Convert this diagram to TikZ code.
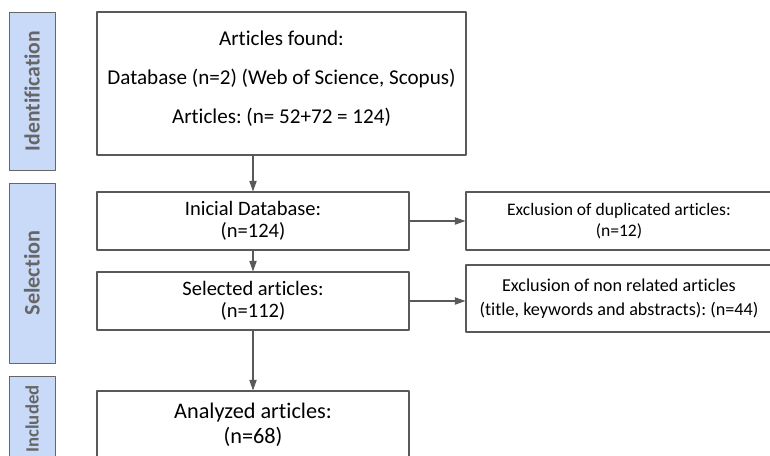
\documentclass[tikz,border=0pt]{standalone}
\usepackage{fontspec}
\setmainfont{Carlito}[Ligatures=NoCommon]
\usetikzlibrary{arrows.meta}
\frenchspacing

\definecolor{linegray}{HTML}{595959}
\definecolor{stagefill}{HTML}{C9DAF8}
\definecolor{stagetext}{HTML}{666666}

\tikzset{
  stepbox/.style={draw=linegray, fill=white, align=center, inner sep=0pt, line width=0.9pt},
  stagebox/.style={draw=stagetext, fill=stagefill, text=stagetext, rotate=90, inner sep=0pt,
    line width=0.8pt, minimum height=1.38cm},
  flow/.style={->, draw=linegray, fill=linegray, line width=1pt}
}

\begin{document}
\begin{tikzpicture}[x=0.03cm, y=-0.03cm, line cap=round, line join=round, >={Triangle[length=3.2mm,width=2.2mm]}]

% Khung hinh (pixel)
\useasboundingbox (0,0) rectangle (770,456);
\clip (0,0) rectangle (770,456);

% Cac giai doan ben trai
\node[stagebox, minimum width=4.74cm, font=\fontsize{18.5}{20}\selectfont\bfseries] (ident) at (32,91) {Identification};
\node[stagebox, minimum width=5.4cm, font=\fontsize{19}{20}\selectfont\bfseries] (selec) at (32,273) {Selection};
\node[stagebox, minimum width=2.58cm, font=\fontsize{16}{17}\selectfont\bfseries] (inclu) at (32,419) {Included};

% Hop tim kiem ban dau
\node[stepbox, minimum width=11.07cm, minimum height=4.29cm, font=\fontsize{18}{33}\selectfont] (found) at (281.5,83.5)
  {Articles found:\\Database (n=2) (Web of Science, Scopus)\\Articles: (n= 52+72 = 124)\\[-22pt]\mbox{}};

% Cac buoc chon loc
\node[stepbox, minimum width=9.36cm, minimum height=1.74cm, font=\fontsize{17.5}{19}\selectfont] (initial) at (253,221)
  {Inicial Database:\\(n=124)};
\node[stepbox, minimum width=9.36cm, minimum height=1.74cm, font=\fontsize{17.5}{19}\selectfont] (selected) at (253,301)
  {Selected articles:\\(n=112)};
\node[stepbox, minimum width=9.36cm, minimum height=2.04cm, font=\fontsize{19}{21}\selectfont] (analyzed) at (253,425)
  {Analyzed articles:\\(n=68)};

% Cac hop loai bo
\node[stepbox, minimum width=9.18cm, minimum height=1.74cm, font=\fontsize{15}{17.5}\selectfont] (dupl) at (619,221)
  {Exclusion of duplicated articles:\\(n=12)};
\node[stepbox, minimum width=9.18cm, minimum height=2.01cm, font=\fontsize{15.5}{20.5}\selectfont] (nonrel) at (619,298.5)
  {Exclusion of non related articles\\(title, keywords and abstracts): (n=44)};

% Mui ten
\draw[flow] (found.south -| initial.north) -- (initial.north);
\draw[flow] (initial.south) -- (selected.north);
\draw[flow] (selected.south) -- (analyzed.north);
\draw[flow] (initial.east) -- (dupl.west);
\draw[flow] (selected.east) -- (selected.east -| nonrel.west);

\end{tikzpicture}
\end{document}
